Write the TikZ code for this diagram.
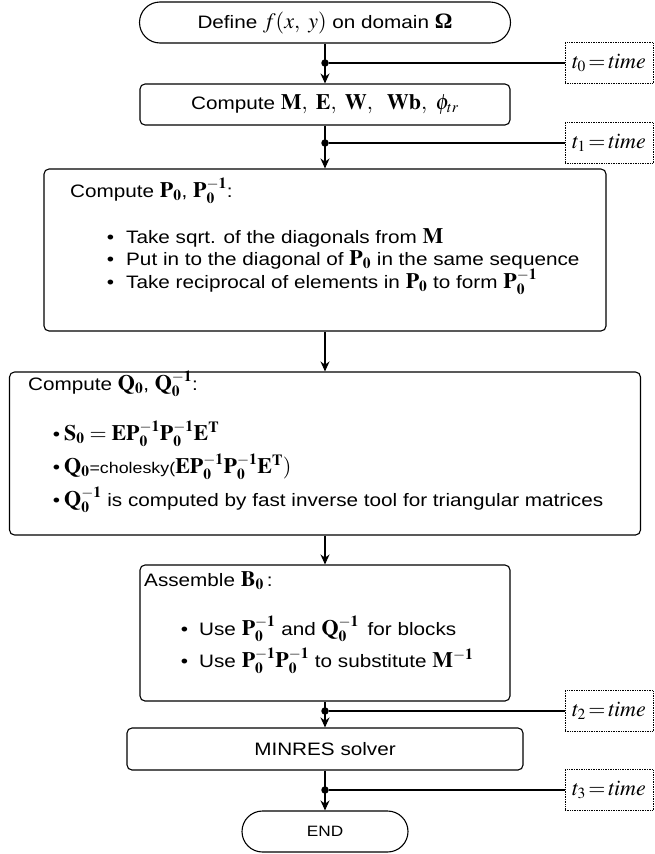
\documentclass[tikz,border=0pt]{standalone}
\usepackage{mathptmx}
\usepackage[no-math]{fontspec}
\setmainfont{Liberation Sans}[FakeStretch=1.15]
\newfontfamily\tmsfont{Liberation Serif}
\usetikzlibrary{arrows.meta}
\DeclareMathSizes{18}{22}{15.5}{11}
\DeclareMathSizes{22}{22}{15.5}{11}
\newcommand\fs{\fontsize{18}{20}\selectfont}
\newcommand\Pz{\mathbf{P}_{\mathbf{0}}}
\newcommand\Pzi{\mathbf{P}_{\mathbf{0}}^{\mathbf{-1}}}
\newcommand\Qz{\mathbf{Q}_{\mathbf{0}}}
\newcommand\Qzi{\mathbf{Q}_{\mathbf{0}}^{\mathbf{-1}}}
\begin{document}
\begin{tikzpicture}[x=1pt,y=-1pt,
  flow/.style={draw, line width=1.1pt, rounded corners=5pt, inner sep=0pt, font=\fs},
  term/.style={draw, line width=1.1pt, rounded corners=20.5pt, inner sep=0pt, minimum height=41pt, font=\fs},
  timer/.style={draw, densely dotted, line width=0.7pt, inner sep=0pt, minimum width=88pt, minimum height=41pt, font=\fontsize{22}{24}\selectfont},
  dotn/.style={circle, fill, inner sep=0pt, minimum size=7.5pt},
  arr/.style={-{Stealth[length=10pt,width=9pt]}, line width=1.1pt},
  link/.style={line width=1.1pt},
  txt/.style={anchor=base west, inner sep=0pt, font=\fs}]
\fill[white] (0,0) rectangle (654,854);
\useasboundingbox (0,0) rectangle (654,854);

% main boxes
\node[term, minimum width=371pt] (st) at (325,22.5) {Define $f(x,\ y)$ on domain {\tmsfont\bfseries\fontsize{22}{22}\selectfont Ω}};
\node[flow, minimum width=370pt, minimum height=41pt] (b2) at (325,104.5) {Compute $\mathbf{M},\ \mathbf{E},\ \mathbf{W},\ \ \mathbf{Wb},\ \phi_{tr}$};
\node[flow, minimum width=562pt, minimum height=162pt] (b3) at (325,250) {};
\node[flow, minimum width=631pt, minimum height=163pt] (b4) at (325,453.5) {};
\node[flow, minimum width=370pt, minimum height=136pt] (b5) at (325,633) {};
\node[flow, minimum width=396pt, minimum height=42pt, font=\fontsize{18}{21}\selectfont] (mr) at (325,749) {MINRES solver};
\node[term, minimum width=166pt, font=\fontsize{15}{17}\selectfont] (en) at (325,831.5) {END};

% box 3 text
\node[txt] (h3) at (70,197) {Compute $\Pz$, $\Pzi$:};
\node[txt] (b3a) at (126,243) {\llap{\textbullet\hspace{12pt}}Take sqrt. of the diagonals from $\mathbf{M}$};
\node[txt] (b3b) at (126,265) {\llap{\textbullet\hspace{12pt}}Put in to the diagonal of $\Pz$ in the same sequence};
\node[txt] (b3c) at (126,288) {\llap{\textbullet\hspace{12pt}}Take reciprocal of elements in $\Pz$ to form $\Pzi$};

% box 4 text
\node[txt] (h4) at (28,390) {Compute $\Qz$, $\Qzi$:};
\node[txt] (b4a) at (64,440) {\llap{\textbullet\hspace{4pt}}$\mathbf{S}_{\mathbf{0}} = \mathbf{E}\Pzi\Pzi\mathbf{E}^{\mathbf{T}}$};
\node[txt] (b4b) at (64,473) {\llap{\textbullet\hspace{4pt}}$\Qz${\fontsize{15.5}{17}\selectfont =cholesky(}$\mathbf{E}\Pzi\Pzi\mathbf{E}^{\mathbf{T}})$};
\node[txt] (b4c) at (64,506) {\llap{\textbullet\hspace{4pt}}$\Qzi$ is computed by fast inverse tool for triangular matrices};

% box 5 text
\node[txt] (h5) at (144,586) {Assemble $\mathbf{B}_{\mathbf{0}}$\,:};
\node[txt] (b5a) at (199,635) {\llap{\textbullet\hspace{11pt}}Use $\Pzi$ and $\Qzi$\, for blocks};
\node[txt] (b5b) at (199,667) {\llap{\textbullet\hspace{11pt}}Use $\Pzi\Pzi$ to substitute $\mathbf{M}^{\mathbf{-1}}$};

% timers
\node[timer] (tm0) at (609,63) {$t_0\,{=}\,\mathit{time}$};
\node[timer] (tm1) at (609,143) {$t_1\,{=}\,\mathit{time}$};
\node[timer] (tm2) at (609,711) {$t_2\,{=}\,\mathit{time}$};
\node[timer] (tm3) at (609,790) {$t_3\,{=}\,\mathit{time}$};

% dots
\node[dotn] (d0) at (325,63) {};
\node[dotn] (d1) at (325,143) {};
\node[dotn] (d2) at (325,711) {};
\node[dotn] (d3) at (325,790) {};

% connectors
\draw[arr] (st) -- (b2);
\draw[arr] (b2) -- (b3);
\draw[arr] (b3) -- (b4);
\draw[arr] (b4) -- (b5);
\draw[arr] (b5) -- (mr);
\draw[arr] (mr) -- (en);
\draw[link] (d0) -- (tm0);
\draw[link] (d1) -- (tm1);
\draw[link] (d2) -- (tm2);
\draw[link] (d3) -- (tm3);
\end{tikzpicture}
\end{document}
